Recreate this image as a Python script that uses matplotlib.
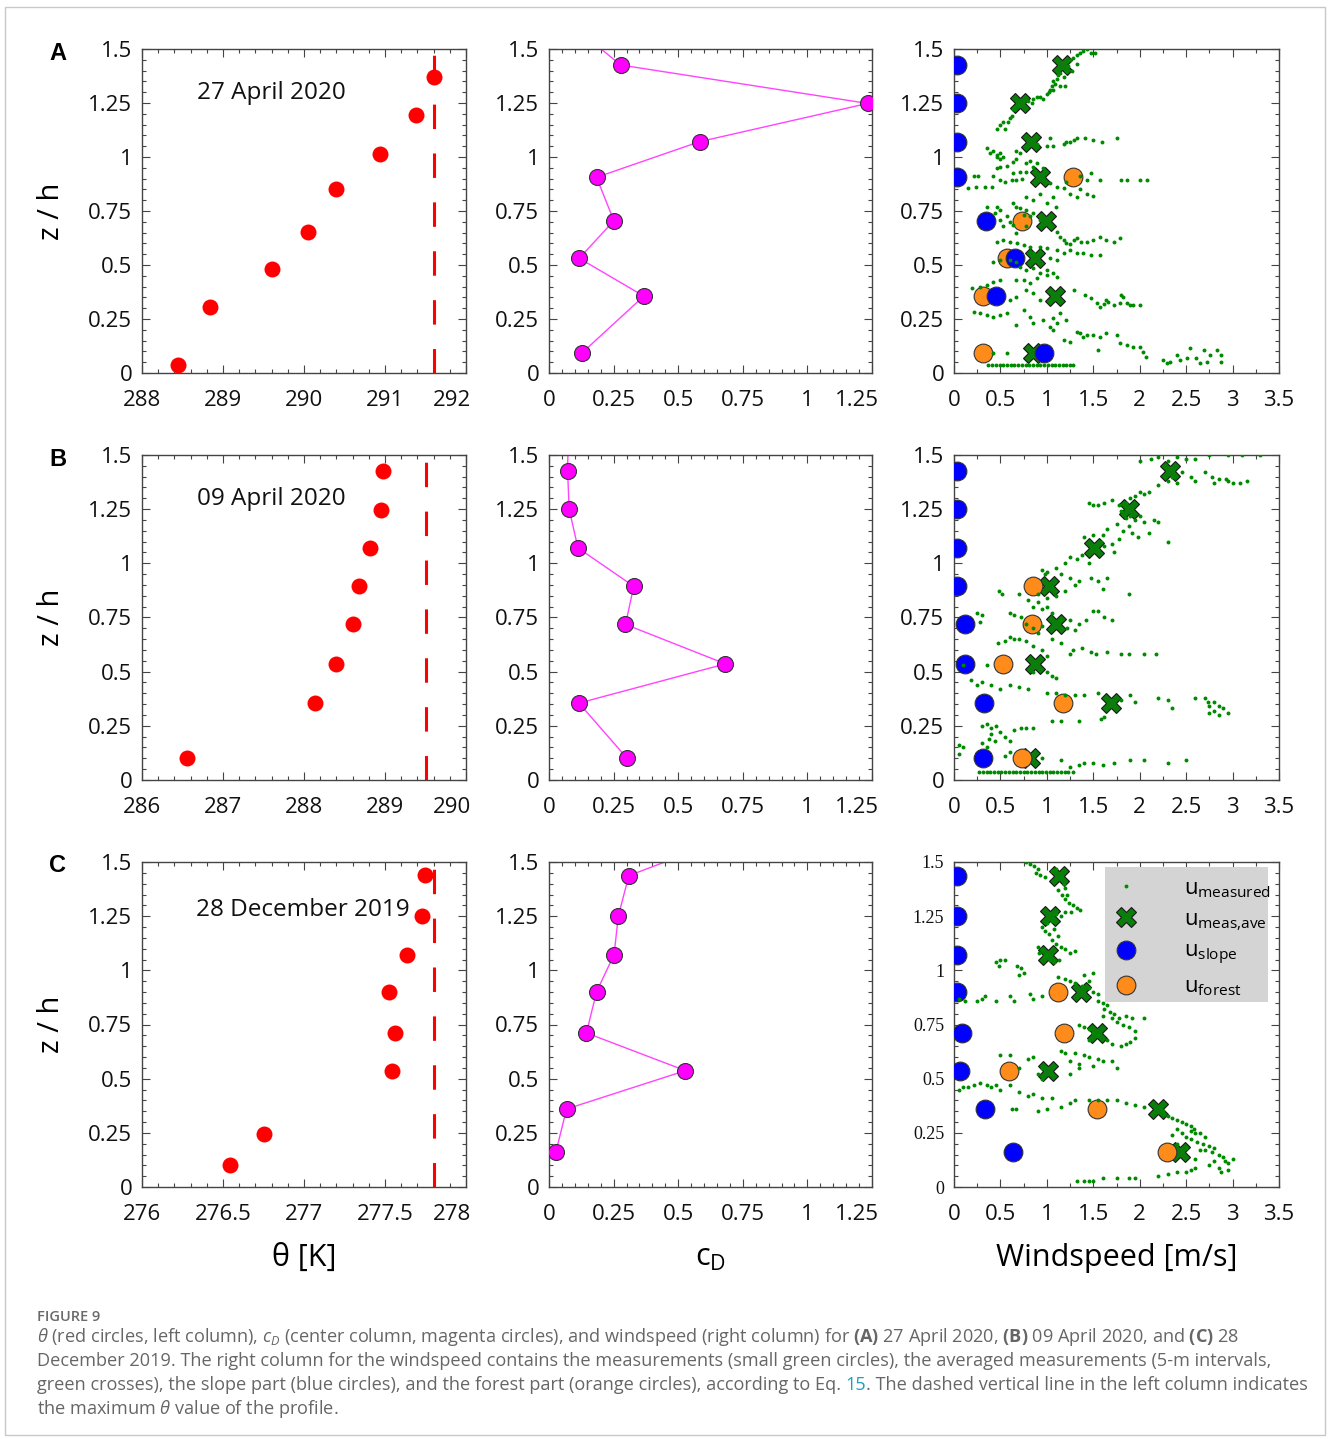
import numpy as np
import matplotlib
matplotlib.use("Agg")
import matplotlib.pyplot as plt
import matplotlib.transforms as mtransforms
from matplotlib.ticker import MultipleLocator, AutoMinorLocator, FuncFormatter
from matplotlib.lines import Line2D
from matplotlib.patches import Rectangle

plt.rcParams["font.family"] = ["Open Sans", "DejaVu Sans"]
plt.rcParams["mathtext.fontset"] = "custom"
plt.rcParams["mathtext.rm"] = "Open Sans"
plt.rcParams["mathtext.it"] = "Open Sans:italic"
plt.rcParams["mathtext.bf"] = "Open Sans:bold"

# ---------------- data ----------------
panel_letters = ["A", "B", "C"]
dates = ["27 April 2020", "09 April 2020", "28 December 2019"]
theta_xlims = [(288, 292), (286, 290), (276, 278)]
theta_major = [1, 1, 0.5]

# potential temperature profiles (theta [K], z/h)
theta_a = [288.44, 288.84, 289.60, 290.05, 290.40, 290.94, 291.38, 291.61]
theta_z_a = [0.037, 0.304, 0.480, 0.653, 0.850, 1.014, 1.196, 1.370]
theta_b = [286.55, 288.14, 288.40, 288.61, 288.68, 288.82, 288.95, 288.98]
theta_z_b = [0.103, 0.355, 0.536, 0.718, 0.894, 1.069, 1.248, 1.427]
theta_c = [276.543, 276.755, 277.541, 277.562, 277.527, 277.638, 277.726, 277.745]
theta_z_c = [0.102, 0.245, 0.537, 0.713, 0.901, 1.073, 1.249, 1.440]
theta_max = [291.61, 289.51, 277.80]
dash_top = [1.47, 1.474, 1.477]

# measurement levels (z/h) used for c_D and the wind components
levels_a = [0.091, 0.356, 0.531, 0.705, 0.906, 1.071, 1.248, 1.426]
levels_b = [0.103, 0.355, 0.536, 0.718, 0.894, 1.071, 1.250, 1.427]
levels_c = [0.163, 0.360, 0.537, 0.711, 0.901, 1.073, 1.249, 1.437]

# drag coefficient, last value lies above the plotted range
cd_a = [0.126, 0.367, 0.117, 0.251, 0.184, 0.583, 1.233, 0.277, 0.10]
cd_z_a = levels_a + [1.60]
cd_b = [0.300, 0.116, 0.683, 0.296, 0.328, 0.112, 0.078, 0.072, 0.075]
cd_z_b = levels_b + [1.62]
cd_c = [0.027, 0.068, 0.528, 0.145, 0.184, 0.252, 0.268, 0.309, 0.67]
cd_z_c = levels_c + [1.60]

# wind components [m/s]
ave_a = [0.854, 1.088, 0.872, 0.987, 0.926, 0.829, 0.711, 1.166]
slope_a = [0.969, 0.449, 0.657, 0.345, 0.03, 0.03, 0.03, 0.03]
forest_a = [0.316, 0.309, 0.574, 0.729, 1.278, np.nan, np.nan, np.nan]
ave_b = [0.819, 1.691, 0.872, 1.095, 1.023, 1.511, 1.888, 2.326]
slope_b = [0.316, 0.327, 0.118, 0.118, 0.03, 0.03, 0.03, 0.03]
forest_b = [0.729, 1.178, 0.524, 0.836, 0.847, np.nan, np.nan, np.nan]
ave_c = [2.434, 2.200, 1.009, 1.544, 1.364, 1.016, 1.034, 1.134]
slope_c = [0.632, 0.334, 0.065, 0.083, 0.03, 0.03, 0.03, 0.03]
forest_c = [2.290, 1.537, 0.596, 1.185, 1.124, np.nan, np.nan, np.nan]

# individual measurements (windspeed, z/h)
meas_a = [
    (0.46, 1.13), (0.50, 1.15), (0.53, 1.16), (0.55, 1.13), (0.58, 1.16), (0.60, 1.18), (0.62, 1.19),
    (0.64, 1.22), (0.66, 1.23), (0.69, 1.24), (0.75, 1.26), (0.80, 1.26), (0.84, 1.25), (0.85, 1.27),
    (0.89, 1.28), (0.93, 1.28), (0.96, 1.27), (1.00, 1.29), (1.02, 1.30), (1.03, 1.31), (1.05, 1.33),
    (1.07, 1.35), (1.09, 1.34), (1.11, 1.36), (1.12, 1.38), (1.14, 1.39), (1.18, 1.37), (1.20, 1.33),
    (1.21, 1.40), (1.23, 1.42), (1.25, 1.45), (1.28, 1.46), (1.32, 1.47), (1.36, 1.48), (1.39, 1.49),
    (1.43, 1.50), (1.47, 1.48), (1.52, 1.48), (1.32, 1.43), (1.27, 1.40), (1.07, 1.31), (1.14, 1.33),
    (0.35, 1.04), (0.42, 1.03), (0.46, 1.01), (0.50, 1.02), (0.67, 1.03), (0.78, 1.05), (0.89, 1.06),
    (1.00, 1.05), (1.03, 1.09), (1.07, 1.05), (1.18, 1.06), (1.21, 1.07), (1.25, 1.07), (1.29, 1.08),
    (1.32, 1.09), (1.41, 1.09), (1.50, 1.08), (1.59, 1.07), (1.75, 1.09),
    (0.39, 1.02), (0.46, 1.00), (0.50, 0.99), (0.53, 1.00), (0.46, 0.95), (0.50, 0.955), (0.57, 0.96),
    (0.64, 0.975), (0.67, 0.99), (0.71, 1.02), (0.78, 0.97), (0.82, 0.98), (0.85, 0.955), (0.89, 0.97),
    (0.96, 0.95), (0.64, 0.925), (0.71, 0.93), (0.78, 0.93),
    (0.15, 0.855), (0.21, 0.91), (0.26, 0.91), (0.24, 0.86), (0.33, 0.86), (0.41, 0.86), (0.42, 0.91),
    (0.50, 0.895), (0.55, 0.885), (0.62, 0.895), (0.67, 0.895), (0.73, 0.90), (1.03, 0.88), (1.11, 0.86),
    (1.21, 0.885), (1.36, 0.91), (1.43, 0.895), (1.48, 0.925), (1.57, 0.895), (1.80, 0.895), (1.86, 0.895),
    (2.00, 0.895), (2.08, 0.895), (1.18, 0.855), (1.25, 0.83), (1.32, 0.815), (1.36, 0.85), (1.43, 0.83),
    (1.50, 0.82), (1.07, 0.815), (1.00, 0.785), (1.10, 0.77), (0.85, 0.80), (0.78, 0.815), (0.93, 0.83),
    (0.35, 0.77), (0.46, 0.77), (0.50, 0.755), (0.44, 0.74), (0.57, 0.725), (0.60, 0.70), (0.64, 0.785),
    (0.67, 0.77), (0.71, 0.762), (0.78, 0.755), (0.50, 0.71), (0.53, 0.68), (0.64, 0.685), (0.75, 0.73),
    (0.82, 0.725), (0.85, 0.74), (0.93, 0.71), (0.78, 0.68), (0.67, 0.65),
    (1.03, 0.68), (1.11, 0.655), (1.14, 0.63), (1.18, 0.615), (1.21, 0.60), (1.25, 0.595), (1.29, 0.615),
    (1.32, 0.623), (1.37, 0.605), (1.43, 0.605), (1.50, 0.616), (1.57, 0.631), (1.64, 0.616), (1.72, 0.608),
    (1.79, 0.623), (0.46, 0.608), (0.53, 0.616), (0.60, 0.608), (0.68, 0.60), (0.75, 0.593), (0.82, 0.585),
    (0.93, 0.585), (1.00, 0.577), (1.11, 0.569), (1.18, 0.554), (1.25, 0.569), (1.32, 0.554), (1.39, 0.554),
    (1.47, 0.546), (1.57, 0.546), (0.85, 0.554), (1.03, 0.531), (1.11, 0.523),
    (0.42, 0.515), (0.50, 0.523), (0.60, 0.523), (0.67, 0.515), (0.71, 0.492), (0.78, 0.477), (0.85, 0.485),
    (0.93, 0.461), (1.00, 0.477), (1.07, 0.461), (1.11, 0.446), (1.00, 0.454), (0.67, 0.431), (0.75, 0.431),
    (0.82, 0.415), (0.89, 0.438),
    (0.19, 0.392), (0.28, 0.40), (0.35, 0.407), (0.42, 0.423), (0.50, 0.431), (0.60, 0.338), (0.67, 0.353),
    (0.78, 0.384), (0.85, 0.369), (0.93, 0.338), (1.03, 0.33), (1.29, 0.384), (1.41, 0.361), (1.48, 0.346),
    (1.54, 0.323), (1.57, 0.307), (1.64, 0.338), (1.72, 0.315), (1.79, 0.323), (1.82, 0.353), (1.86, 0.323),
    (1.90, 0.315), (1.93, 0.315), (2.00, 0.315), (1.80, 0.36), (1.66, 0.33), (1.62, 0.32),
    (0.21, 0.284), (0.28, 0.276), (0.35, 0.269), (0.42, 0.261), (0.50, 0.269), (0.57, 0.276), (0.67, 0.222),
    (0.75, 0.292), (0.82, 0.261), (0.85, 0.23), (0.96, 0.245), (1.03, 0.215), (1.07, 0.199), (1.11, 0.23),
    (1.14, 0.276), (1.21, 0.245), (1.07, 0.253),
    (1.18, 0.153), (1.25, 0.145), (1.32, 0.191), (1.36, 0.184), (1.39, 0.168), (1.43, 0.176), (1.50, 0.176),
    (1.57, 0.168), (1.64, 0.184), (1.75, 0.176), (1.79, 0.137), (1.86, 0.13), (1.93, 0.122), (2.00, 0.122),
    (2.04, 0.099), (2.07, 0.076), (1.55, 0.106),
    (0.42, 0.091), (0.57, 0.091), (2.25, 0.06), (2.29, 0.045), (2.33, 0.052), (2.40, 0.083), (2.43, 0.06),
    (2.51, 0.068), (2.54, 0.114), (2.61, 0.068), (2.65, 0.045), (2.69, 0.106), (2.72, 0.052), (2.76, 0.083),
    (2.83, 0.106), (2.87, 0.052), (2.88, 0.083),
    (0.37, 0.037), (0.41, 0.037), (0.45, 0.037), (0.49, 0.037), (0.53, 0.037), (0.57, 0.037), (0.61, 0.037),
    (0.65, 0.037), (0.69, 0.037), (0.73, 0.037), (0.77, 0.037), (0.81, 0.037), (0.85, 0.037), (0.89, 0.037),
    (0.93, 0.037), (0.97, 0.037), (1.01, 0.037), (1.05, 0.037), (1.09, 0.037), (1.13, 0.037), (1.17, 0.037),
    (1.21, 0.037), (1.25, 0.037), (1.28, 0.037),
]

meas_b = [
    (2.00, 1.47), (2.12, 1.48), (2.20, 1.49), (2.30, 1.47), (2.40, 1.49), (2.50, 1.48), (2.60, 1.48),
    (2.75, 1.50), (2.95, 1.50), (3.10, 1.50), (3.30, 1.50), (2.45, 1.42), (2.55, 1.40), (2.60, 1.38),
    (2.35, 1.40), (2.40, 1.37), (2.30, 1.38), (2.20, 1.36), (2.10, 1.33), (2.00, 1.33),
    (2.70, 1.42), (2.78, 1.40), (2.85, 1.39), (2.93, 1.39), (3.00, 1.37), (3.08, 1.37), (3.15, 1.38),
    (2.80, 1.37), (2.95, 1.38),
    (1.70, 1.29), (1.78, 1.27), (1.85, 1.28), (1.90, 1.30), (1.95, 1.31), (2.05, 1.32), (1.45, 1.28),
    (1.50, 1.27), (1.55, 1.27), (1.62, 1.28), (1.80, 1.24), (1.85, 1.21), (1.90, 1.22), (1.95, 1.20),
    (2.00, 1.22), (2.05, 1.19), (2.15, 1.20), (2.20, 1.19), (1.75, 1.18), (1.82, 1.15), (1.88, 1.17),
    (1.92, 1.14), (1.98, 1.12), (2.10, 1.14), (2.30, 1.10), (1.65, 1.16), (1.60, 1.13), (1.58, 1.10),
    (1.55, 1.06), (1.70, 1.09), (1.78, 1.11), (1.72, 1.05), (1.40, 1.12), (1.50, 1.13), (1.62, 1.08),
    (1.25, 1.03), (1.32, 1.02), (1.38, 1.04), (1.45, 1.00), (1.20, 1.00), (1.10, 0.98), (1.00, 0.96),
    (0.95, 0.97), (0.98, 0.95), (1.15, 0.95), (1.25, 0.93), (1.35, 0.92), (1.48, 0.93), (1.55, 0.92),
    (1.65, 0.93), (1.30, 0.90), (1.20, 0.87), (1.10, 0.85), (1.00, 0.84), (0.90, 0.86), (1.88, 0.86),
    (1.60, 0.88),
    (0.48, 0.87), (0.52, 0.86), (0.70, 0.86), (0.80, 0.83), (0.85, 0.80), (0.90, 0.82), (0.95, 0.79),
    (1.00, 0.80), (1.05, 0.77),
    (0.25, 0.77), (0.30, 0.76), (0.28, 0.73), (0.60, 0.77), (0.65, 0.76), (0.72, 0.75), (0.78, 0.72),
    (0.85, 0.70), (0.90, 0.68), (0.95, 0.71), (1.15, 0.74), (1.25, 0.74), (1.35, 0.72), (1.42, 0.74),
    (1.50, 0.78), (1.55, 0.78), (1.62, 0.75), (1.70, 0.74), (1.22, 0.70), (1.30, 0.69),
    (0.47, 0.63), (0.55, 0.64), (0.60, 0.66), (0.65, 0.65), (0.70, 0.65), (0.78, 0.64), (0.85, 0.62),
    (0.95, 0.60), (1.05, 0.65), (1.15, 0.63), (1.28, 0.60), (1.38, 0.61), (1.48, 0.59), (1.53, 0.58),
    (1.65, 0.59), (1.80, 0.58), (1.88, 0.58), (2.05, 0.58), (2.17, 0.58), (1.25, 0.58), (1.00, 0.57),
    (0.10, 0.53), (0.35, 0.53), (0.85, 0.50), (1.00, 0.50), (1.05, 0.48), (1.10, 0.47), (0.18, 0.46),
    (0.25, 0.44), (0.30, 0.45), (0.40, 0.44), (0.50, 0.42), (0.60, 0.44), (0.70, 0.43), (0.80, 0.42),
    (1.00, 0.40), (1.10, 0.40), (1.20, 0.39), (1.30, 0.39), (1.40, 0.39), (1.55, 0.40), (1.80, 0.37),
    (1.90, 0.39), (1.95, 0.36), (2.20, 0.38), (2.30, 0.37), (2.60, 0.38), (2.70, 0.38), (2.75, 0.34),
    (2.80, 0.36), (2.85, 0.34), (2.75, 0.31), (2.80, 0.32), (2.85, 0.30), (2.90, 0.33), (2.95, 0.31),
    (2.73, 0.36), (2.35, 0.33), (1.58, 0.28), (1.62, 0.29), (1.05, 0.27), (1.15, 0.27), (1.35, 0.27),
    (0.30, 0.25), (0.35, 0.26), (0.40, 0.24), (0.45, 0.25), (0.50, 0.22), (0.40, 0.21), (0.38, 0.19),
    (0.44, 0.18), (0.55, 0.20), (0.60, 0.18), (0.65, 0.23), (0.72, 0.24), (0.78, 0.24), (0.85, 0.24),
    (0.30, 0.17), (0.35, 0.15), (0.05, 0.16), (0.10, 0.15), (0.05, 0.12), (0.60, 0.13), (0.55, 0.11),
    (0.95, 0.10), (1.15, 0.09), (1.35, 0.07), (1.40, 0.08), (1.50, 0.08), (1.60, 0.07), (1.72, 0.08),
    (1.90, 0.09), (2.05, 0.09), (2.30, 0.08), (2.50, 0.09), (1.25, 0.06),
    (0.27, 0.036), (0.31, 0.036), (0.35, 0.036), (0.39, 0.036), (0.43, 0.036), (0.47, 0.036), (0.51, 0.036),
    (0.55, 0.036), (0.59, 0.036), (0.63, 0.036), (0.67, 0.036), (0.71, 0.036), (0.75, 0.036), (0.79, 0.036),
    (0.83, 0.036), (0.87, 0.036), (0.91, 0.036), (0.95, 0.036), (0.99, 0.036), (1.03, 0.036), (1.07, 0.036),
    (1.11, 0.036), (1.15, 0.036), (1.19, 0.036), (1.23, 0.036), (1.28, 0.036),
]

meas_c = [
    (0.78, 1.50), (0.82, 1.49), (0.86, 1.48), (0.90, 1.47), (0.88, 1.45), (0.93, 1.44), (0.98, 1.43),
    (1.05, 1.46), (1.10, 1.47), (1.15, 1.43), (1.18, 1.40), (1.20, 1.38), (1.12, 1.37), (1.16, 1.35),
    (1.20, 1.33), (1.22, 1.35), (1.24, 1.31), (1.28, 1.30), (1.32, 1.29), (1.36, 1.28), (1.26, 1.27),
    (1.20, 1.27), (1.15, 1.25), (1.10, 1.26), (1.05, 1.23), (1.00, 1.22), (0.95, 1.20), (0.98, 1.18),
    (1.02, 1.17), (1.08, 1.19), (1.12, 1.16), (1.05, 1.14), (1.10, 1.12), (1.15, 1.11), (1.20, 1.10),
    (1.25, 1.08), (1.30, 1.09), (0.90, 1.11), (0.95, 1.10), (0.92, 1.08), (0.97, 1.06), (1.03, 1.05),
    (1.08, 1.04), (1.13, 1.05), (1.00, 1.07),
    (0.45, 1.04), (0.50, 1.05), (0.55, 1.05), (0.48, 1.02), (0.68, 1.02), (0.72, 1.01), (0.75, 0.99),
    (0.70, 0.98),
    (0.05, 0.87), (0.12, 0.86), (0.25, 0.86), (0.30, 0.87), (0.33, 0.88), (0.45, 0.86), (0.60, 0.88),
    (0.65, 0.86), (0.82, 0.89), (0.85, 0.87), (0.95, 0.88),
    (1.12, 0.97), (1.20, 0.96), (1.25, 0.95), (1.30, 0.94), (1.38, 0.93), (1.45, 0.92), (1.50, 0.90),
    (1.55, 0.89), (1.40, 0.98), (1.50, 0.99), (1.45, 0.95), (1.55, 0.86), (1.60, 0.85), (1.65, 0.84),
    (1.62, 0.82), (1.68, 0.81), (1.72, 0.80), (1.60, 0.79), (1.70, 0.78), (1.78, 0.78), (1.85, 0.79),
    (1.92, 0.78), (1.75, 0.76), (1.82, 0.75), (1.88, 0.74), (1.95, 0.72), (2.05, 0.78), (1.95, 0.69),
    (1.90, 0.67), (1.85, 0.66), (1.80, 0.65), (1.70, 0.66), (1.65, 0.68), (1.35, 0.75), (1.40, 0.74),
    (1.45, 0.73), (1.50, 0.71), (1.55, 0.70), (1.45, 0.68),
    (1.15, 0.63), (1.20, 0.62), (1.30, 0.62), (1.40, 0.61), (1.45, 0.60), (1.55, 0.59), (1.60, 0.58),
    (1.70, 0.58), (1.75, 0.55), (1.50, 0.56), (1.35, 0.57), (1.25, 0.58), (0.80, 0.59), (0.85, 0.60),
    (0.60, 0.61), (0.50, 0.61), (0.95, 0.55), (1.05, 0.52), (0.95, 0.50), (1.25, 0.52), (1.35, 0.55),
    (0.70, 0.55), (0.90, 0.52),
    (0.05, 0.45), (0.10, 0.46), (0.15, 0.46), (0.22, 0.47), (0.28, 0.48), (0.35, 0.47), (0.40, 0.46),
    (0.45, 0.47), (0.50, 0.45), (0.60, 0.47), (0.70, 0.44), (0.80, 0.42), (0.85, 0.43), (0.95, 0.41),
    (1.05, 0.41), (0.62, 0.36), (0.67, 0.36), (0.90, 0.35), (1.00, 0.36), (1.15, 0.37), (1.25, 0.39),
    (1.30, 0.40), (1.45, 0.40), (1.55, 0.40), (1.65, 0.40), (1.75, 0.40), (1.85, 0.39), (1.95, 0.38),
    (2.05, 0.37), (2.25, 0.35), (2.30, 0.33), (2.35, 0.32), (2.40, 0.31), (2.45, 0.30), (2.50, 0.29),
    (2.55, 0.28), (2.58, 0.27), (2.60, 0.25), (2.65, 0.25), (2.70, 0.23), (2.55, 0.26), (2.40, 0.27),
    (2.45, 0.25), (2.50, 0.23), (2.55, 0.22), (2.62, 0.21), (2.68, 0.20), (2.75, 0.19), (2.80, 0.18),
    (2.70, 0.17), (2.78, 0.16), (2.85, 0.15), (2.90, 0.14), (2.92, 0.12), (2.95, 0.11), (3.00, 0.13),
    (2.80, 0.12), (2.75, 0.10), (2.85, 0.09), (2.95, 0.08), (2.88, 0.07), (2.60, 0.13), (2.65, 0.17),
    (2.50, 0.18), (2.40, 0.20), (2.35, 0.24),
    (2.20, 0.05), (2.30, 0.06), (2.40, 0.07), (2.50, 0.07), (2.55, 0.08), (2.60, 0.09), (1.60, 0.04),
    (1.75, 0.04), (1.88, 0.04), (1.95, 0.04), (1.32, 0.03), (1.40, 0.03), (1.45, 0.03), (1.50, 0.03),
]

theta_data = [(theta_a, theta_z_a), (theta_b, theta_z_b), (theta_c, theta_z_c)]
cd_data = [(cd_a, cd_z_a), (cd_b, cd_z_b), (cd_c, cd_z_c)]
wind_data = [
    (levels_a, ave_a, slope_a, forest_a, meas_a),
    (levels_b, ave_b, slope_b, forest_b, meas_b),
    (levels_c, ave_c, slope_c, forest_c, meas_c),
]

# ---------------- layout ----------------
W, H = 1328, 1439
fig = plt.figure(figsize=(W / 100, H / 100), dpi=100)
fig.patches.append(Rectangle((5 / W, 4 / H), 1320 / W, 1428 / H, transform=fig.transFigure,
                             fill=False, edgecolor="#c8c8c8", lw=1))

col_x = [142, 549, 954]
col_w = [324, 323, 325]
row_y = [49, 455, 862]
row_h = [324, 325, 325]

spine_col = "#444444"
fmt = FuncFormatter(lambda v, p: f"{v:g}")


def make_axes(r, c):
    x, y, w, h = col_x[c], row_y[r], col_w[c], row_h[r]
    return fig.add_axes([x / W, 1 - (y + h) / H, w / W, h / H])


def style(ax, xmaj, nminor):
    ax.set_ylim(0, 1.5)
    ax.yaxis.set_major_locator(MultipleLocator(0.25))
    ax.yaxis.set_minor_locator(AutoMinorLocator(5))
    ax.xaxis.set_major_locator(MultipleLocator(xmaj))
    ax.xaxis.set_minor_locator(AutoMinorLocator(nminor))
    ax.xaxis.set_major_formatter(fmt)
    ax.yaxis.set_major_formatter(fmt)
    ax.tick_params(which="both", direction="in", top=True, right=True,
                   color=spine_col, width=0.8, labelsize=16, labelcolor="#111111")
    ax.tick_params(which="major", length=6)
    ax.tick_params(which="minor", length=3)
    ax.tick_params(axis="y", which="major", pad=7)
    ax.tick_params(axis="x", which="major", pad=12.5)
    for s in ax.spines.values():
        s.set_color(spine_col)
        s.set_linewidth(1)


def shift_last_xlabel(ax, dx):
    # the last tick label sits a little inside the right edge
    xmax = ax.get_xlim()[1]
    ax.xaxis.get_majorticklabels()  # makes sure the ticks are placed
    locs = ax.xaxis.get_majorticklocs()
    ticks = ax.xaxis.get_major_ticks(len(locs))
    for tick, loc in zip(ticks, locs):
        if abs(loc - xmax) < 1e-6:
            lab = tick.label1
            lab.set_transform(lab.get_transform() +
                              mtransforms.ScaledTranslation(dx / 100, 0, fig.dpi_scale_trans))


for r in range(3):
    # left column: potential temperature
    ax = make_axes(r, 0)
    th, thz = theta_data[r]
    ax.plot([theta_max[r], theta_max[r]], [0, dash_top[r]], color="#ff0000", lw=2.2, dashes=(8, 8), zorder=2)
    ax.plot(th, thz, "o", color="#ff0000", ms=11.5, mec="none", zorder=3)
    ax.set_xlim(*theta_xlims[r])
    style(ax, theta_major[r], 5)
    shift_last_xlabel(ax, -14)
    ax.text(0.40 if r < 2 else 0.497, 0.865 if r < 2 else 0.852, dates[r], transform=ax.transAxes,
            ha="center", va="center", fontsize=17.5, color="#111111")
    ax.set_ylabel("z / h", fontsize=21)
    ax.yaxis.set_label_coords(-0.235, 0.5)
    fig.text(58 / W, 1 - (row_y[r] + 4) / H, panel_letters[r], fontsize=17, fontweight="bold",
             family="Liberation Sans", ha="center", va="center")
    if r == 2:
        ax.set_xlabel(r"θ [K]", fontsize=22)

    # centre column: drag coefficient
    ax = make_axes(r, 1)
    cd, cdz = cd_data[r]
    ax.plot(cd, cdz, "-", color="#ff44ff", lw=1, zorder=2)
    ax.plot(cd, cdz, "o", ms=11.5, mfc="#ff00ff", mec="#333333", mew=0.8, zorder=3)
    ax.set_xlim(0, 1.25)
    style(ax, 0.25, 5)
    shift_last_xlabel(ax, -15)
    if r == 2:
        ax.set_xlabel(r"c$_\mathregular{D}$", fontsize=22)

    # right column: windspeed
    ax = make_axes(r, 2)
    lev, ave, slope, forest, meas = wind_data[r]
    mw = np.array(meas)
    ax.plot(ave, lev, "X", ms=15, mfc="#0b7d0b", mec="#1a1a1a", mew=0.8, ls="none", zorder=2)
    ax.plot(forest, lev, "o", ms=13.5, mfc="#ff8c1a", mec="#333333", mew=0.8, ls="none", zorder=3)
    ax.plot(slope, lev, "o", ms=13.5, mfc="#0000ff", mec="#333333", mew=0.8, ls="none", zorder=4)
    ax.scatter(mw[:, 0], mw[:, 1], s=8, color="#008a00", lw=0, zorder=5)
    ax.set_xlim(0, 3.5)
    style(ax, 0.5, 2)
    if r == 2:
        ax.set_xlabel("Windspeed [m/s]", fontsize=22)
        for lab in ax.get_yticklabels():
            lab.set_fontfamily("Liberation Serif")
            lab.set_fontsize(13)
        # grey legend panel
        box_l, box_r = (1105 - 954) / 325, (1268 - 954) / 325
        box_b, box_t = (1187 - 1002) / 325, (1187 - 867) / 325
        ax.add_patch(Rectangle((box_l, box_b), box_r - box_l, box_t - box_b, transform=ax.transAxes,
                               facecolor="#d4d4d4", edgecolor="none", zorder=9))
        handles = [
            Line2D([], [], ls="none", marker="o", ms=2.8, color="#008a00", mec="none"),
            Line2D([], [], ls="none", marker="X", ms=15, mfc="#0b7d0b", mec="#1a1a1a", mew=0.8),
            Line2D([], [], ls="none", marker="o", ms=13.5, mfc="#0000ff", mec="#333333", mew=0.8),
            Line2D([], [], ls="none", marker="o", ms=13.5, mfc="#ff8c1a", mec="#333333", mew=0.8),
        ]
        labels = [r"u$_\mathregular{measured}$", r"u$_\mathregular{meas{,}ave}$",
                  r"u$_\mathregular{slope}$", r"u$_\mathregular{forest}$"]
        leg = ax.legend(handles, labels, loc="upper left", bbox_to_anchor=(box_l, box_t - 0.004),
                        borderaxespad=0, fontsize=15.8, frameon=False,
                        handlelength=1.0, handletextpad=2.15, labelspacing=0.42, borderpad=0.45)
        leg.set_zorder(10)

for ax in fig.axes:
    if ax.get_xlabel():
        ax.xaxis.set_label_coords(0.5, -0.218)
        ax.xaxis.label.set_verticalalignment("center")

# ---------------- caption ----------------
cap_col = "#666666"
fig.text(37 / W, 1 - 1317 / H, "FIGURE 9", fontsize=10.5, fontweight="semibold", color="#6a6a6a",
         ha="left", va="center")
cap_kw = dict(fontsize=13.05, color=cap_col, ha="left", va="center")
line1 = (r"$\theta$ (red circles, left column), $c_D$ (center column, magenta circles), and windspeed "
         r"(right column) for $\mathbf{(A)}$ 27 April 2020, $\mathbf{(B)}$ 09 April 2020, and $\mathbf{(C)}$ 28")
line2 = ("December 2019. The right column for the windspeed contains the measurements (small green circles), "
         "the averaged measurements (5-m intervals,")
line3a = "green crosses), the slope part (blue circles), and the forest part (orange circles), according to Eq."
line3b = "15"
line3c = ". The dashed vertical line in the left column indicates"
line4 = r"the maximum $\theta$ value of the profile."

fig.text(37 / W, 1 - 1337 / H, line1, **cap_kw)
fig.text(37 / W, 1 - 1361 / H, line2, **cap_kw)
fig.text(37 / W, 1 - 1409 / H, line4, **cap_kw)
renderer = fig.canvas.get_renderer()
t3a = fig.text(37 / W, 1 - 1385 / H, line3a, **cap_kw)
x_end = t3a.get_window_extent(renderer).x1 + 4.6
t3b = fig.text(x_end / W, 1 - 1385 / H, line3b, **{**cap_kw, "color": "#1e9fc4"})
x_end = t3b.get_window_extent(renderer).x1
fig.text(x_end / W, 1 - 1385 / H, line3c, **cap_kw)

fig.savefig("out.png", dpi=100)
